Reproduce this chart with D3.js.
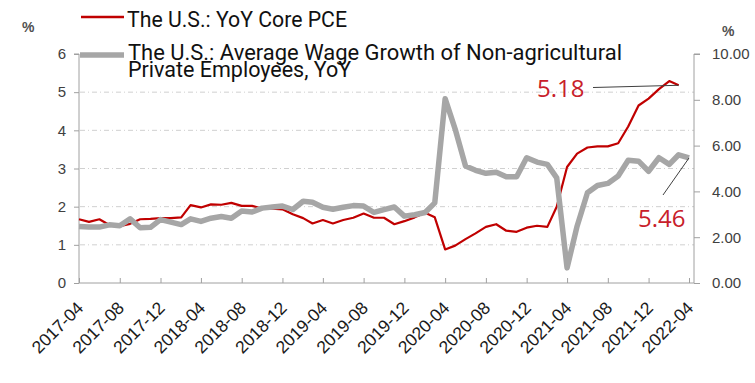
<!DOCTYPE html>
<head>
<meta charset="utf-8">
<script src="https://d3js.org/d3.v7.min.js"></script>
<style>
  body { margin: 0; background: #fff; }
  svg { display: block; }
</style>
</head>
<body>
  <svg id="chart" width="755" height="383"></svg>
  <script>
    // first month of both series, then monthly values
    const startMonth = "2017-04";
    // YoY Core PCE, 2017-04 .. 2022-03 (left axis)
    const corePce = [1.67, 1.60, 1.67, 1.52, 1.49, 1.55, 1.67, 1.68, 1.70, 1.70, 1.72, 2.04,
      1.98, 2.06, 2.05, 2.10, 2.02, 2.02, 1.95, 1.95, 1.93, 1.80, 1.70, 1.56,
      1.65, 1.56, 1.65, 1.71, 1.82, 1.71, 1.71, 1.54, 1.62, 1.72, 1.84, 1.72,
      0.88, 0.98, 1.15, 1.30, 1.47, 1.54, 1.37, 1.34, 1.45, 1.50, 1.47, 2.00,
      3.04, 3.39, 3.55, 3.58, 3.58, 3.66, 4.10, 4.65, 4.83, 5.08, 5.29, 5.18];
    // Average wage growth, 2017-04 .. 2022-04 (right axis)
    const wageGrowth = [2.47, 2.45, 2.44, 2.54, 2.50, 2.80, 2.41, 2.43, 2.77, 2.66, 2.55, 2.80,
      2.69, 2.83, 2.90, 2.83, 3.14, 3.10, 3.27, 3.32, 3.36, 3.21, 3.57, 3.53,
      3.31, 3.22, 3.31, 3.38, 3.36, 3.08, 3.20, 3.32, 2.92, 2.98, 3.08, 3.50,
      8.05, 6.72, 5.11, 4.92, 4.79, 4.84, 4.64, 4.64, 5.47, 5.28, 5.18, 4.59,
      0.66, 2.48, 3.94, 4.26, 4.35, 4.67, 5.36, 5.32, 4.88, 5.47, 5.18, 5.60, 5.46];
    const xTicks = ["2017-04", "2017-08", "2017-12", "2018-04", "2018-08", "2018-12",
      "2019-04", "2019-08", "2019-12", "2020-04", "2020-08", "2020-12",
      "2021-04", "2021-08", "2021-12", "2022-04"];
    const leftTicks = [0, 1, 2, 3, 4, 5, 6];
    const rightTicks = [0, 2, 4, 6, 8, 10];
    const legendNames = ["The U.S.: YoY Core PCE",
      "The U.S.: Average Wage Growth of Non-agricultural", "Private Employees, YoY"];
    const lastLabels = ["5.18", "5.46"];

    const red = "#c00000", grey = "#a6a6a6", axisGrey = "#a0a0a0";
    const svg = d3.select("svg");
    const parse = d3.timeParse("%Y-%m");
    const months = d3.timeMonth.range(parse(startMonth), d3.timeMonth.offset(parse(startMonth), wageGrowth.length));

    const x = d3.scaleTime()
      .domain([parse("2017-04"), parse("2022-04")])
      .range([79, 689]);
    const yL = d3.scaleLinear().domain([0, 6]).range([283, 54]);
    const yR = d3.scaleLinear().domain([0, 10]).range([283, 54]);

    // Grid lines
    svg.append("g")
      .selectAll("line")
      .data(leftTicks.filter(d => d > 0 && d < 6))
      .join("line")
      .attr("x1", 80).attr("x2", 694)
      .attr("y1", d => yL(d)).attr("y2", d => yL(d))
      .attr("stroke", "#d0d0d0")
      .attr("stroke-dasharray", "5,3,1,3");

    // Left axis
    const axL = svg.append("g").attr("transform", "translate(79,0)")
      .call(d3.axisLeft(yL).tickValues(leftTicks).tickFormat(d3.format("d")).tickSize(5).tickPadding(8));
    axL.select(".domain").attr("stroke", axisGrey).attr("d", `M-5,${yL(6)}H0V${yL(0)}`);
    axL.selectAll(".tick line").attr("stroke", axisGrey);
    axL.selectAll("text").attr("font-family", "Liberation Sans, Arial").attr("font-size", 15).attr("fill", "#404040");

    // Right axis
    const axR = svg.append("g").attr("transform", "translate(694,0)")
      .call(d3.axisRight(yR).tickValues(rightTicks).tickFormat(d3.format(".2f")).tickSize(6).tickPadding(12));
    axR.select(".domain").attr("stroke", axisGrey).attr("d", `M6,${yR(10)}H0V${yR(0)}`);
    axR.selectAll(".tick line").attr("stroke", axisGrey);
    axR.selectAll("text").attr("font-family", "Liberation Sans, Arial").attr("font-size", 15).attr("fill", "#404040");

    // Bottom axis
    const axB = svg.append("g").attr("transform", "translate(0,283)")
      .call(d3.axisBottom(x).tickValues(xTicks.map(parse)).tickSize(-5).tickFormat(d3.timeFormat("%Y-%m")));
    axB.select(".domain").attr("stroke", axisGrey).attr("d", "M79,0H694");
    axB.selectAll(".tick line").attr("stroke", axisGrey);
    axB.selectAll("text")
      .attr("font-family", "Liberation Sans, Arial").attr("font-size", 17.5).attr("fill", "#1a1a1a")
      .attr("text-anchor", "end")
      .attr("transform", "translate(5,26) rotate(-45)")
      .attr("y", 0).attr("dy", 0);

    // axis units
    svg.append("text").attr("x", 22).attr("y", 32).text("%")
      .attr("font-family", "Liberation Sans, Arial").attr("font-size", 14).attr("font-weight", "bold").attr("fill", "#505050");
    svg.append("text").attr("x", 722).attr("y", 36).text("%")
      .attr("font-family", "Liberation Sans, Arial").attr("font-size", 14).attr("font-weight", "bold").attr("fill", "#505050");

    // Lines
    svg.append("path")
      .datum(corePce)
      .attr("fill", "none").attr("stroke", red).attr("stroke-width", 2.2)
      .attr("stroke-linejoin", "round")
      .attr("d", d3.line().x((d, i) => x(months[i])).y(d => yL(d)));
    svg.append("path")
      .datum(wageGrowth)
      .attr("fill", "none").attr("stroke", grey).attr("stroke-width", 5.5)
      .attr("stroke-linejoin", "round")
      .attr("d", d3.line().x((d, i) => x(months[i])).y(d => yR(d)));

    // Legend
    svg.append("line").attr("x1", 81).attr("x2", 124).attr("y1", 17).attr("y2", 17)
      .attr("stroke", red).attr("stroke-width", 2.5);
    svg.append("line").attr("x1", 80).attr("x2", 124).attr("y1", 55).attr("y2", 55)
      .attr("stroke", grey).attr("stroke-width", 5.5);
    const legendFont = "Roboto, sans-serif";
    svg.append("text").attr("x", 127).attr("y", 27).text(legendNames[0])
      .attr("font-family", legendFont).attr("font-size", 21.5).attr("fill", "#111")
      .attr("textLength", 220).attr("lengthAdjust", "spacingAndGlyphs");
    const lg2 = svg.append("text")
      .attr("font-family", legendFont).attr("font-size", 21.5).attr("fill", "#111");
    lg2.append("tspan").attr("x", 128).attr("y", 60).text(legendNames[1])
      .attr("textLength", 494).attr("lengthAdjust", "spacingAndGlyphs");
    lg2.append("tspan").attr("x", 128).attr("y", 77).text(legendNames[2]);

    // Last value annotations
    const lastRed = corePce.length - 1, lastGrey = wageGrowth.length - 1;
    svg.append("line")
      .attr("x1", 593).attr("y1", 87.5)
      .attr("x2", x(months[lastRed])).attr("y2", yL(corePce[lastRed]))
      .attr("stroke", "#404040").attr("stroke-width", 1);
    svg.append("text").attr("x", 537).attr("y", 97).text(lastLabels[0])
      .attr("font-family", "Open Sans, sans-serif").attr("font-size", 24).attr("fill", "#c8202a");
    svg.append("line")
      .attr("x1", 663).attr("y1", 195)
      .attr("x2", x(months[lastGrey])).attr("y2", yR(wageGrowth[lastGrey]))
      .attr("stroke", "#404040").attr("stroke-width", 1);
    svg.append("text").attr("x", 638).attr("y", 227).text(lastLabels[1])
      .attr("font-family", "Open Sans, sans-serif").attr("font-size", 24).attr("fill", "#c8202a");
  </script>
</body>
